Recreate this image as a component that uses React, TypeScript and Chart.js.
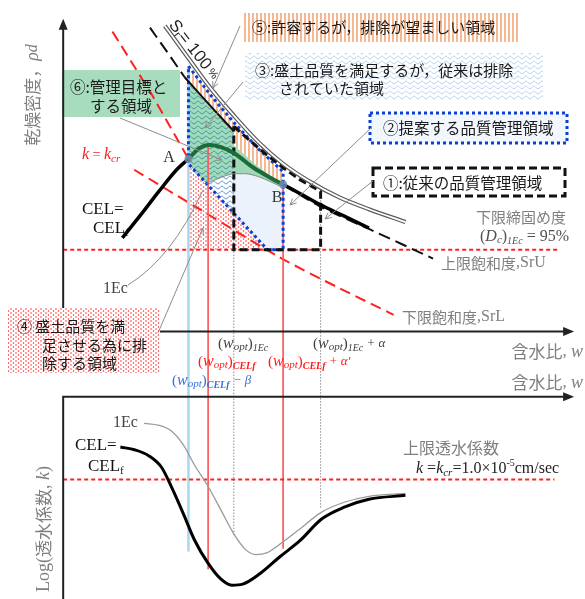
import React, { useEffect, useRef } from "react";
import { Chart, registerables } from "chart.js";
Chart.register(...registerables);

// ---------- Upper chart: dry density rho_d (g/cm3) vs water content w (%) ----------
// Zero-air-void curve, Sr = 100 %
const zavW = [10.15, 11.35, 12.5, 13.65, 14.9, 16.15, 17.5, 19.0, 20.5, 22.35];
const zavRho = [2.02, 1.954, 1.892, 1.838, 1.784, 1.74, 1.704, 1.672, 1.648, 1.622];
// Upper saturation SrU (dry dashed part, solid part, wet dashed part)
const srUDryW = [9.4, 10.25, 11.15];
const srUDryRho = [2.016, 1.968, 1.916];
const srUMidW = [11.15, 11.35, 12.5, 13.65];
const srUMidRho = [1.916, 1.907, 1.856, 1.806];
const srUWetW = [16.15, 18.0, 20.5, 23.75];
const srUWetRho = [1.698, 1.654, 1.608, 1.548];
// Lower saturation SrL
const srLW = [8.6, 12.0, 16.0, 19.0, 21.75];
const srLRho = [1.728, 1.646, 1.55, 1.488, 1.434];
// k = kcr line
const kcrW = [7.5, 9.5, 11.35];
const kcrRho = [2.008, 1.88, 1.75];
// Compaction curve CEL = CELf (green between A and B)
const celW = [8.0, 9.0, 9.85, 10.75, 11.35, 11.85, 12.4, 13.0, 13.65, 14.65, 15.5, 16.15, 17.0, 18.0, 19.25, 20.5];
const celRho = [1.59, 1.64, 1.684, 1.728, 1.75, 1.77, 1.778, 1.774, 1.762, 1.732, 1.712, 1.698, 1.68, 1.658, 1.634, 1.61];
const celGreenFrom = 4;
const celGreenTo = 11;
// Compaction curve 1Ec (visible part)
const ec1W = [12.25, 12.6, 13.1, 13.65, 14.25, 14.9, 15.5, 16.15];
const ec1Rho = [1.7, 1.706, 1.714, 1.72, 1.72, 1.714, 1.704, 1.692];
// lower limit of degree of compaction (Dc)1Ec = 95 %
const dcRho = 1.566;
const dcW = [5, 30.1];
// region boundaries
const r2TopW = [11.35, 12.5, 13.65, 14.9, 16.15];
const r2TopRho = [1.938, 1.878, 1.824, 1.77, 1.724];
const diagW = [11.35, 15.35];
const diagRho = [1.74, 1.566];
const diagAt1EcRho = 1.64;
const r1TopW = [13.65, 14.9, 16.15, 17.0, 18.05];
const r1TopRho = [1.816, 1.772, 1.732, 1.708, 1.684];
const wedgeTopW = [13.65, 14.65, 15.5, 16.15];
const wedgeTopRho = [1.778, 1.742, 1.716, 1.698];
// key water contents and guide lines
const guideW = [11.35, 12.35, 13.65, 16.15, 18.05]; // (wopt)CELf-β, (wopt)CELf, (wopt)1Ec, (wopt)CELf+α', (wopt)1Ec+α
const guideTopRho = [1.938, 1.778, 1.72, 1.698, 1.684];
const guideEndRho = [0.954, 0.918, 0.984, 0.96, 1.04];
const pointA = { w: 11.35, rho: 1.75 };
const pointB = { w: 16.15, rho: 1.698 };
// axes
const wAxisMin = 5;
const wAxisMax = 30.9;
const rhoAxisMin = 1.4;
const rhoAxisMax = 2.034;
const logkAxisTop = -2.9;

// ---------- Lower chart: log k vs w ----------
const kEc1W = [9.1, 9.85, 10.5, 11.1, 11.65, 12.35, 13.0, 13.65, 14.25, 14.75, 15.35, 16.15, 17.0, 18.1, 19.25, 20.5, 22.35];
const kEc1Log = [-3.575, -3.625, -3.775, -4.125, -4.625, -5.175, -5.775, -6.375, -6.775, -6.9, -6.85, -6.575, -6.25, -5.825, -5.575, -5.425, -5.35];
const kCelW = [7.9, 8.65, 9.35, 10.0, 10.5, 11.1, 11.65, 12.35, 13.0, 13.55, 14.1, 15.0, 16.0, 17.0, 18.1, 19.25, 20.5, 22.35];
const kCelLog = [-4.175, -4.25, -4.4, -4.7, -5.2, -5.875, -6.525, -7.125, -7.525, -7.675, -7.65, -7.375, -6.95, -6.55, -6.0, -5.7, -5.5, -5.4];
const kCrLog = -5;
const kCrW = [5, 29.9];

const JP = '"Noto Sans CJK JP", "Noto Sans", sans-serif';
const SERIF = '"Liberation Serif", "DejaVu Serif", serif';
const SANS = '"Liberation Sans", "DejaVu Sans", sans-serif';

type Part = { t: string; f: string; dy?: number; c?: string };

function rich(ctx: CanvasRenderingContext2D, x: number, y: number, parts: Part[], color = "#000", align: "left" | "center" | "right" = "left") {
  ctx.save();
  ctx.textBaseline = "middle";
  ctx.textAlign = "left";
  let total = 0;
  for (const p of parts) { ctx.font = p.f; total += ctx.measureText(p.t).width; }
  let cx = align === "left" ? x : align === "center" ? x - total / 2 : x - total;
  for (const p of parts) {
    ctx.font = p.f;
    ctx.fillStyle = p.c || color;
    ctx.fillText(p.t, cx, y + (p.dy || 0));
    cx += ctx.measureText(p.t).width;
  }
  ctx.restore();
}

function makePattern(w: number, h: number, draw: (g: CanvasRenderingContext2D) => void): CanvasPattern {
  const c = document.createElement("canvas");
  c.width = w; c.height = h;
  const g = c.getContext("2d")!;
  draw(g);
  return g.createPattern(c, "repeat")!;
}
const wave = (bg: string, fg: string) => makePattern(8, 5, (g) => {
  g.fillStyle = bg; g.fillRect(0, 0, 8, 5);
  g.strokeStyle = fg; g.lineWidth = 1;
  g.beginPath();
  for (let i = 0; i <= 16; i++) {
    const x = i / 2;
    const y = 2.5 + 1.3 * Math.sin((Math.PI * 2 * x) / 8);
    if (i) g.lineTo(x, y); else g.moveTo(x, y);
  }
  g.stroke();
});

const pts = (ws: number[], ys: number[]) => ws.map((w, i) => ({ x: w, y: ys[i] }));
const closed = (ws: number[], ys: number[]) => { const p = pts(ws, ys); p.push({ ...p[0] }); return p; };
const rev = (a: number[]) => a.slice().reverse();

function woptParts(sub: string, tail: string, bold: boolean): Part[] {
  return [
    { t: "(", f: `15px ${SERIF}` },
    { t: "w", f: `italic 16px ${SERIF}` },
    { t: "opt", f: `italic 11px ${SERIF}`, dy: 3 },
    { t: ")", f: `15px ${SERIF}` },
    { t: sub, f: `italic ${bold ? "bold " : ""}10px ${SERIF}`, dy: 4 },
    { t: tail, f: `italic 13px ${SERIF}` },
  ];
}

export default function App() {
  const ref = useRef<HTMLCanvasElement>(null);
  useEffect(() => {
    const canvas = ref.current!;
    const stripes = makePattern(4, 4, (g) => { g.fillStyle = "#fff"; g.fillRect(0, 0, 4, 4); g.fillStyle = "#f5b890"; g.fillRect(0, 0, 2, 4); });
    const dots = makePattern(5, 4, (g) => {
      g.fillStyle = "#fff"; g.fillRect(0, 0, 5, 4);
      g.fillStyle = "#ff2020";
      g.beginPath(); g.arc(1, 1, 0.75, 0, Math.PI * 2); g.fill();
      g.beginPath(); g.arc(3.5, 3, 0.75, 0, Math.PI * 2); g.fill();
    });
    const waveBox = wave("#ffffff", "#a9cbee");
    const waveBlue = wave("#ffffff", "#3f86d6");
    const waveGreen = wave("#a3dbb9", "#2b8cb0");

    const ds: any[] = [];
    const add = (d: any) => ds.push({ pointRadius: 0, borderWidth: 0, fill: false, tension: 0, yAxisID: "y", borderColor: "rgba(0,0,0,0)", ...d });
    const region = (ws: number[], ys: number[], bg: any) => add({ data: closed(ws, ys), fill: "shape", backgroundColor: bg });

    // regions (bottom to top)
    region([...r2TopW, pointB.w, diagW[1], diagW[0]], [...r2TopRho, dcRho, diagRho[1], diagRho[0]], "#ecf2fb");
    region([diagW[0], diagW[1], diagW[0]], [diagRho[0], diagRho[1], dcRho], dots);
    region([...ec1W.slice(0, 4), ec1W[3]], [...ec1Rho.slice(0, 4), diagAt1EcRho], waveBlue);
    region([...srUMidW.slice(1), ...rev(ec1W.slice(0, 4)), diagW[0]], [...srUMidRho.slice(1), ...rev(ec1Rho.slice(0, 4)), diagRho[0]], waveGreen);
    region([...wedgeTopW, ...rev(ec1W.slice(3))], [...wedgeTopRho, ...rev(ec1Rho.slice(3))], "#9ed8b4");
    region([...r2TopW, ...rev(wedgeTopW), ...rev(srUMidW.slice(1))], [...r2TopRho, ...rev(wedgeTopRho), ...rev(srUMidRho.slice(1))], stripes);

    // red reference lines
    add({ data: pts(dcW, [dcRho, dcRho]), borderColor: "#ff2020", borderWidth: 2, borderDash: [4, 3] });
    add({ data: pts(srLW, srLRho), borderColor: "#ff2020", borderWidth: 2, borderDash: [11, 6], tension: 0.3 });
    add({ data: pts(kcrW, kcrRho), borderColor: "#ff2020", borderWidth: 2, borderDash: [11, 6] });

    // vertical guides
    const guideStyle = [
      { c: "#a6d9f0", w: 2.5, d: [] },
      { c: "#ff5a5a", w: 1, d: [] },
      { c: "#555", w: 1, d: [1, 2] },
      { c: "#ff5a5a", w: 1, d: [] },
      { c: "#555", w: 1, d: [1, 2] },
    ];
    guideW.forEach((w, i) => add({ data: pts([w, w], [guideTopRho[i], guideEndRho[i]]), borderColor: guideStyle[i].c, borderWidth: guideStyle[i].w, borderDash: guideStyle[i].d }));

    // region borders
    add({ data: closed([...r2TopW, pointB.w, diagW[1], diagW[0]], [...r2TopRho, dcRho, diagRho[1], diagRho[0]]), borderColor: "#0a3fd6", borderWidth: 3, borderDash: [3, 3] });
    add({ data: closed([...r1TopW, r1TopW[4], r1TopW[0]], [...r1TopRho, dcRho, dcRho]), borderColor: "#111", borderWidth: 3, borderDash: [8, 4] });

    // saturation curves
    add({ data: pts(zavW, zavRho), borderColor: "#5a5a5a", borderWidth: 4.2, cubicInterpolationMode: "monotone" });
    add({ data: pts(zavW, zavRho), borderColor: "#ffffff", borderWidth: 1.8, cubicInterpolationMode: "monotone" });
    add({ data: pts(srUDryW, srUDryRho), borderColor: "#111", borderWidth: 2, borderDash: [12, 6] });
    add({ data: pts(srUMidW, srUMidRho), borderColor: "#111", borderWidth: 2, tension: 0.3 });
    add({ data: pts(srUWetW, srUWetRho), borderColor: "#111", borderWidth: 2, borderDash: [12, 6], tension: 0.3 });

    // compaction curves
    add({ data: pts(ec1W, ec1Rho), borderColor: "#8a8a8a", borderWidth: 1, cubicInterpolationMode: "monotone" });
    add({
      data: pts(celW, celRho), borderColor: "#000", borderWidth: 3.5, cubicInterpolationMode: "monotone",
      segment: {
        borderColor: (c: any) => (c.p0DataIndex >= celGreenFrom && c.p0DataIndex < celGreenTo ? "#1c6b3b" : "#000"),
        borderWidth: (c: any) => (c.p0DataIndex >= celGreenFrom && c.p0DataIndex < celGreenTo ? 4 : 3.5),
      },
    });
    add({ data: [{ x: pointA.w, y: pointA.rho }, { x: pointB.w, y: pointB.rho }], showLine: false, pointRadius: 4, pointBackgroundColor: "rgba(110,140,175,0.85)", pointBorderWidth: 0 });

    // lower chart
    add({ yAxisID: "y2", data: pts(kCrW, [kCrLog, kCrLog]), borderColor: "#ff2020", borderWidth: 2, borderDash: [4, 3] });
    add({ yAxisID: "y2", data: pts(kEc1W, kEc1Log), borderColor: "#9a9a9a", borderWidth: 1.3, cubicInterpolationMode: "monotone" });
    add({ yAxisID: "y2", data: pts(kCelW, kCelLog), borderColor: "#000", borderWidth: 3, cubicInterpolationMode: "monotone" });

    ds.forEach((d, i) => { d.order = ds.length - i; });

    const arrowHead = (ctx: CanvasRenderingContext2D, x: number, y: number, dx: number, dy: number) => {
      const len = Math.hypot(dx, dy); const ux = dx / len, uy = dy / len;
      ctx.beginPath();
      ctx.moveTo(x, y);
      ctx.lineTo(x - ux * 11 - uy * 4.5, y - uy * 11 + ux * 4.5);
      ctx.lineTo(x - ux * 11 + uy * 4.5, y - uy * 11 - ux * 4.5);
      ctx.closePath(); ctx.fill();
    };
    const leader = (ctx: CanvasRenderingContext2D, p: number[][], arrow: boolean) => {
      ctx.save();
      ctx.strokeStyle = "#8c8c8c"; ctx.lineWidth = 1;
      ctx.beginPath(); ctx.moveTo(p[0][0], p[0][1]);
      if (p.length === 3) ctx.quadraticCurveTo(p[1][0], p[1][1], p[2][0], p[2][1]);
      else ctx.lineTo(p[1][0], p[1][1]);
      ctx.stroke();
      if (arrow) {
        const a = p[p.length - 1], b = p[p.length - 2];
        const ang = Math.atan2(a[1] - b[1], a[0] - b[0]);
        ctx.beginPath();
        ctx.moveTo(a[0] - 7 * Math.cos(ang - 0.45), a[1] - 7 * Math.sin(ang - 0.45));
        ctx.lineTo(a[0], a[1]);
        ctx.lineTo(a[0] - 7 * Math.cos(ang + 0.45), a[1] - 7 * Math.sin(ang + 0.45));
        ctx.stroke();
      }
      ctx.restore();
    };

    const deco = {
      id: "deco",
      beforeDatasetsDraw(chart: any) {
        const ctx: CanvasRenderingContext2D = chart.ctx;
        ctx.save();
        ctx.fillStyle = "#a8dcbf";
        ctx.fillRect(62, 70, 118, 47);
        ctx.restore();
      },
      afterDatasetsDraw(chart: any) {
        const ctx: CanvasRenderingContext2D = chart.ctx;
        const xs = chart.scales.x, ys = chart.scales.y, y2 = chart.scales.y2;
        // axes
        const ax = xs.getPixelForValue(wAxisMin), axEnd = xs.getPixelForValue(wAxisMax);
        const yBase = ys.getPixelForValue(rhoAxisMin), yTop = ys.getPixelForValue(rhoAxisMax);
        const yb = y2.getPixelForValue(logkAxisTop);
        ctx.save();
        ctx.strokeStyle = "#222"; ctx.fillStyle = "#222"; ctx.lineWidth = 2;
        ctx.beginPath();
        ctx.moveTo(ax, yBase); ctx.lineTo(ax, yTop + 8);
        ctx.moveTo(ax, yBase); ctx.lineTo(axEnd - 8, yBase);
        ctx.moveTo(ax, yb); ctx.lineTo(axEnd - 8, yb);
        ctx.moveTo(ax, yb - 1); ctx.lineTo(ax, chart.height + 2);
        ctx.stroke();
        arrowHead(ctx, ax, yTop, 0, -1);
        arrowHead(ctx, axEnd, yBase, 1, 0);
        arrowHead(ctx, axEnd, yb, 1, 0);
        ctx.restore();

        // boxes
        ctx.save();
        ctx.fillStyle = stripes; ctx.fillRect(242, 13, 276, 29);
        ctx.fillStyle = waveBox; ctx.fillRect(245, 53, 298, 47);
        ctx.fillStyle = "#f2f7fd"; ctx.fillRect(370, 113, 197, 30);
        ctx.strokeStyle = "#0a3fd6"; ctx.lineWidth = 3; ctx.setLineDash([3, 3]); ctx.strokeRect(370, 113, 197, 30);
        ctx.fillStyle = "#fff"; ctx.fillRect(373, 168, 192, 28);
        ctx.strokeStyle = "#111"; ctx.setLineDash([8, 4]); ctx.strokeRect(373, 168, 192, 28);
        ctx.setLineDash([]);
        ctx.fillStyle = dots; ctx.fillRect(8, 308, 152, 65);
        ctx.restore();

        // leader lines
        leader(ctx, [[240, 26], [213, 88]], true);
        leader(ctx, [[243, 82], [205, 128]], true);
        leader(ctx, [[120, 118], [222, 160]], true);
        leader(ctx, [[372, 127], [290, 205]], true);
        leader(ctx, [[373, 181], [325, 219]], true);
        leader(ctx, [[128, 285], [172, 258], [203, 190]], false);
        leader(ctx, [[158, 333], [203, 228]], true);

        const dark = "#1a1a1a";
        const gray = "#7f7f7f";
        // box texts
        rich(ctx, 252, 27, [{ t: "⑤:許容するが，排除が望ましい領域", f: `15px ${JP}` }], dark);
        rich(ctx, 255, 70, [{ t: "③:盛土品質を満足するが，従来は排除", f: `15px ${JP}` }], dark);
        rich(ctx, 279, 88, [{ t: "されていた領域", f: `15px ${JP}` }], dark);
        rich(ctx, 383, 128, [{ t: "②提案する品質管理領域", f: `15.5px ${JP}` }], dark);
        rich(ctx, 383, 183, [{ t: "①:従来の品質管理領域", f: `15.5px ${JP}` }], dark);
        rich(ctx, 70, 87, [{ t: "⑥:管理目標と", f: `15.5px ${JP}` }], dark);
        rich(ctx, 90, 106, [{ t: "する領域", f: `15.5px ${JP}` }], dark);
        rich(ctx, 17, 326, [{ t: "④ 盛土品質を満", f: `15px ${JP}` }], dark);
        rich(ctx, 42, 345, [{ t: "足させる為に排", f: `15px ${JP}` }], dark);
        rich(ctx, 42, 363, [{ t: "除する領域", f: `15px ${JP}` }], dark);

        // axis titles
        ctx.save(); ctx.translate(33, 95); ctx.rotate(-Math.PI / 2);
        rich(ctx, 0, 0, [{ t: "乾燥密度，", f: `17px ${JP}` }, { t: "ρ", f: `italic 18px ${SERIF}` }, { t: "d", f: `italic 16px ${SERIF}` }], gray, "center");
        ctx.restore();
        ctx.save(); ctx.translate(44, 529); ctx.rotate(-Math.PI / 2);
        rich(ctx, 0, 0, [{ t: "Log(", f: `18px ${SERIF}` }, { t: "透水係数", f: `17px ${JP}` }, { t: ", ", f: `18px ${SERIF}` }, { t: "k", f: `italic 18px ${SERIF}` }, { t: ")", f: `18px ${SERIF}` }], gray, "center");
        ctx.restore();
        const wLabel: Part[] = [{ t: "含水比", f: `17px ${JP}` }, { t: ", ", f: `17px ${SERIF}` }, { t: "w", f: `italic 18px ${SERIF}` }];
        rich(ctx, 583, 352, wLabel, gray, "right");
        rich(ctx, 583, 383, wLabel, gray, "right");

        // Sr = 100 %
        ctx.save(); ctx.translate(172, 22); ctx.rotate((52 * Math.PI) / 180);
        rich(ctx, 0, 0, [{ t: "S", f: `17px ${SANS}` }, { t: "r", f: `11px ${SANS}`, dy: 4 }, { t: "= 100", f: `17px ${SANS}` }, { t: " %", f: `11px ${SANS}` }], "#222");
        ctx.restore();

        // curve labels
        rich(ctx, 169, 158, [{ t: "A", f: `16px ${SERIF}` }], "#333", "center");
        rich(ctx, 277, 198, [{ t: "B", f: `16px ${SERIF}` }], "#333", "center");
        rich(ctx, 82, 155, [{ t: "k", f: `italic 16px ${SERIF}` }, { t: " = ", f: `14px ${SERIF}` }, { t: "k", f: `italic 16px ${SERIF}` }, { t: "cr", f: `italic 11px ${SERIF}`, dy: 4 }], "#ff1a1a");
        rich(ctx, 82, 210, [{ t: "CEL=", f: `17px ${SERIF}` }], "#111");
        rich(ctx, 93, 229, [{ t: "CEL", f: `17px ${SERIF}` }, { t: "f", f: `11px ${SERIF}`, dy: 4 }], "#111");
        rich(ctx, 103, 289, [{ t: "1Ec", f: `16px ${SERIF}` }], "#444");
        rich(ctx, 476, 217, [{ t: "下限締固め度", f: `15px ${JP}` }], gray);
        rich(ctx, 480, 237, [{ t: "(", f: `16px ${SERIF}` }, { t: "D", f: `italic 16px ${SERIF}` }, { t: "c", f: `italic 11px ${SERIF}`, dy: 3 }, { t: ")", f: `16px ${SERIF}` }, { t: "1Ec", f: `italic 10px ${SERIF}`, dy: 4 }, { t: " = 95%", f: `16px ${SERIF}` }], "#505050");
        rich(ctx, 441, 263, [{ t: "上限飽和度", f: `15px ${JP}` }, { t: ",SrU", f: `16px ${SERIF}` }], gray);
        rich(ctx, 402, 317, [{ t: "下限飽和度", f: `15px ${JP}` }, { t: ",SrL", f: `16px ${SERIF}` }], gray);

        // water content labels
        rich(ctx, 218, 344, woptParts("1Ec", "", false), "#404040");
        rich(ctx, 313, 344, woptParts("1Ec", " + α", false), "#404040");
        rich(ctx, 198, 362, woptParts("CELf", "", true), "#ff1a1a");
        rich(ctx, 268, 362, woptParts("CELf", " + α′", true), "#ff1a1a");
        rich(ctx, 172, 381, woptParts("CELf", " − β", true), "#3a6fd8");

        // lower chart labels
        rich(ctx, 403, 448, [{ t: "上限透水係数", f: `16px ${JP}` }], gray);
        rich(ctx, 416, 469, [
          { t: "k", f: `italic 16px ${SERIF}` }, { t: " =", f: `16px ${SERIF}` }, { t: "k", f: `italic 16px ${SERIF}` },
          { t: "cr", f: `italic 11px ${SERIF}`, dy: 4 }, { t: "=1.0×10", f: `16px ${SERIF}` }, { t: "-5", f: `10px ${SERIF}`, dy: -6 },
          { t: "cm/sec", f: `16px ${SERIF}` },
        ], "#222");
        rich(ctx, 113, 423, [{ t: "1Ec", f: `16px ${SERIF}` }], "#444");
        rich(ctx, 75, 446, [{ t: "CEL=", f: `17px ${SERIF}` }], "#111");
        rich(ctx, 88, 467, [{ t: "CEL", f: `17px ${SERIF}` }, { t: "f", f: `11px ${SERIF}`, dy: 4 }], "#111");
      },
    };

    const chart = new Chart(canvas, {
      type: "line",
      data: { datasets: ds },
      options: {
        responsive: false,
        animation: false,
        events: [],
        layout: { padding: 0 },
        plugins: { legend: { display: false }, tooltip: { enabled: false } },
        scales: {
          x: { type: "linear", min: 2, max: 31.25, display: false },
          y: { type: "linear", min: 0.866, max: 2.064, display: false },
          y2: { type: "linear", min: -7.925, max: 7.05, display: false },
        },
      },
      plugins: [deco],
    } as any);
    return () => chart.destroy();
  }, []);

  return (
    <div style={{ position: "fixed", left: 0, top: 0, width: 585, height: 599, background: "#fff" }}>
      <canvas ref={ref} width={585} height={599} style={{ display: "block", width: 585, height: 599 }} />
    </div>
  );
}
